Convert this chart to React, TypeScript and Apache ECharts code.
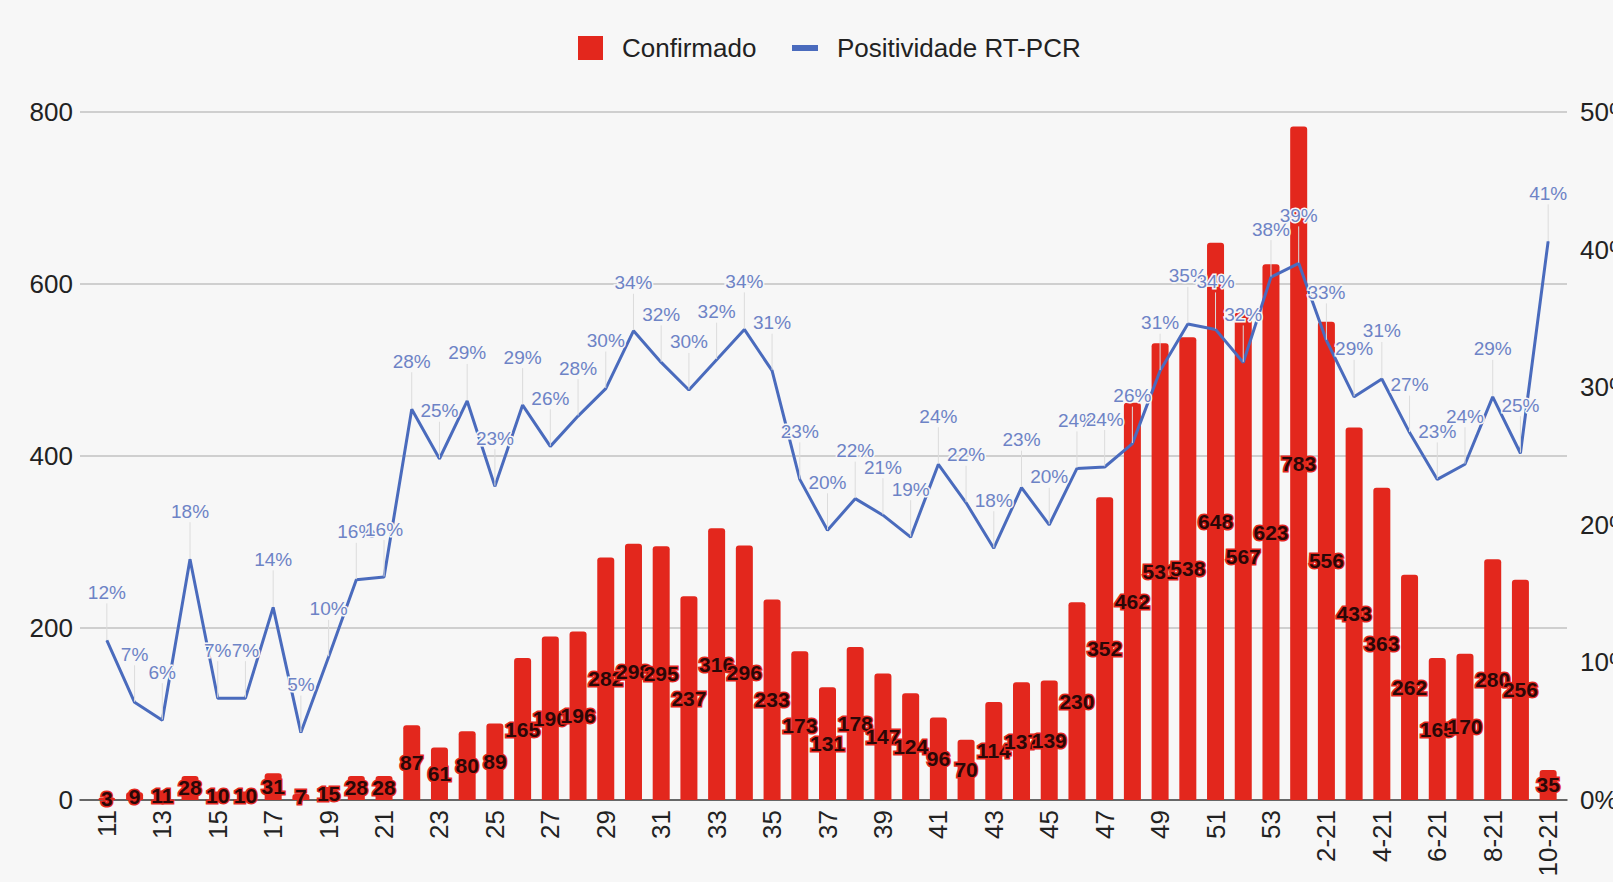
import React, { useEffect, useRef } from "react";
import * as echarts from "echarts";

const categories: string[] = [
  "11", "12", "13", "14", "15", "16", "17", "18", "19", "20",
  "21", "22", "23", "24", "25", "26", "27", "28", "29", "30",
  "31", "32", "33", "34", "35", "36", "37", "38", "39", "40",
  "41", "42", "43", "44", "45", "46", "47", "48", "49", "50",
  "51", "52", "53", "1-21", "2-21", "3-21", "4-21", "5-21", "6-21", "7-21",
  "8-21", "9-21", "10-21",
];

const confirmado: number[] = [
  3, 9, 11, 28, 10, 10, 31, 7, 15, 28,
  28, 87, 61, 80, 89, 165, 190, 196, 282, 298,
  295, 237, 316, 296, 233, 173, 131, 178, 147, 124,
  96, 70, 114, 137, 139, 230, 352, 462, 531, 538,
  648, 567, 623, 783, 556, 433, 363, 262, 165, 170,
  280, 256, 35,
];

const positividade: number[] = [
  11.6, 7.1, 5.8, 17.5, 7.4, 7.4, 14.0, 4.9, 10.4, 16.0,
  16.2, 28.4, 24.8, 29.0, 22.8, 28.7, 25.7, 27.9, 29.9, 34.1,
  31.8, 29.8, 32.0, 34.2, 31.2, 23.3, 19.6, 21.9, 20.7, 19.1,
  24.4, 21.6, 18.3, 22.7, 20.0, 24.1, 24.2, 25.9, 31.2, 34.6,
  34.2, 31.8, 38.0, 39.0, 33.4, 29.3, 30.6, 26.7, 23.3, 24.4,
  29.3, 25.2, 40.6,
];

const leftTicks = { min: 0, max: 800, interval: 200 };
const rightTicks = { min: 0, max: 50, interval: 10 };

const FONT = "'Liberation Sans', Arial, sans-serif";
const RED = "#e3271d";
const BLUE = "#4a6bbd";
const BG = "#f7f7f7";

export default function App() {
  const ref = useRef<HTMLDivElement>(null);

  useEffect(() => {
    if (!ref.current) return;
    const chart = echarts.init(ref.current, null, { renderer: "svg" });
    const top = 112;
    const bottom = 82;
    chart.setOption({
      animation: false,
      backgroundColor: BG,
      textStyle: { fontFamily: FONT },
      legend: [
        {
          data: ["Confirmado"],
          left: 573,
          top: 30,
          icon: "rect",
          itemWidth: 25,
          itemHeight: 24,
          textStyle: { fontSize: 26, color: "#222", fontFamily: FONT, padding: [0, 0, 0, 14] },
        },
        {
          data: ["Positividade RT-PCR"],
          left: 787,
          top: 30,
          icon: "rect",
          itemWidth: 26,
          itemHeight: 6,
          textStyle: { fontSize: 26, color: "#222", fontFamily: FONT, padding: [0, 0, 0, 14] },
        },
      ],
      grid: [
        { left: 93, right: 51, top, bottom, outerBoundsMode: "none" },
        { left: 80, right: 46, top, bottom, outerBoundsMode: "none" },
      ],
      xAxis: [
        {
          type: "category",
          gridIndex: 0,
          data: categories,
          boundaryGap: true,
          axisLine: { show: false },
          axisTick: { show: false },
          axisLabel: {
            interval: 1,
            rotate: 90,
            margin: 10,
            fontSize: 26,
            color: "#222",
            fontFamily: FONT,
          },
        },
        {
          type: "value",
          gridIndex: 1,
          min: 0,
          max: 1,
          axisLine: { show: true, onZero: false, lineStyle: { color: "#444", width: 1.5 } },
          axisTick: { show: false },
          axisLabel: { show: false },
          splitLine: { show: false },
        },
      ],
      yAxis: [
        { type: "value", gridIndex: 0, ...leftTicks, show: false },
        { type: "value", gridIndex: 0, ...rightTicks, show: false },
        {
          type: "value",
          gridIndex: 1,
          position: "left",
          ...leftTicks,
          axisLine: { show: false },
          axisTick: { show: false },
          axisLabel: { fontSize: 26, color: "#222", margin: 7, fontFamily: FONT },
          splitLine: { show: true, lineStyle: { color: "#cfcfcf", width: 2 } },
        },
        {
          type: "value",
          gridIndex: 1,
          position: "right",
          ...rightTicks,
          axisLine: { show: false },
          axisTick: { show: false },
          axisLabel: {
            fontSize: 26,
            color: "#222",
            margin: 13,
            fontFamily: FONT,
            formatter: "{value}%",
          },
          splitLine: { show: false },
        },
      ],
      series: [
        {
          name: "Confirmado",
          type: "bar",
          xAxisIndex: 0,
          yAxisIndex: 0,
          data: confirmado,
          barWidth: 17,
          color: RED,
          itemStyle: { color: RED, borderRadius: [3, 3, 0, 0] },
          label: {
            show: true,
            position: "inside",
            fontSize: 21,
            fontWeight: "bold",
            color: "#2a0707",
            textBorderColor: RED,
            textBorderWidth: 3,
            fontFamily: FONT,
          },
          z: 2,
        },
        {
          name: "Positividade RT-PCR",
          type: "line",
          xAxisIndex: 0,
          yAxisIndex: 1,
          data: positividade,
          color: BLUE,
          symbol: "circle",
          symbolSize: 1,
          showSymbol: true,
          lineStyle: { color: BLUE, width: 3 },
          itemStyle: { color: BLUE },
          label: {
            show: true,
            position: "top",
            distance: 2,
            fontSize: 19,
            color: "#6d83c6",
            textBorderColor: BG,
            textBorderWidth: 3,
            fontFamily: FONT,
            formatter: (p: any) => Math.round(p.value) + "%",
          },
          labelLayout: { dy: -36 },
          labelLine: { show: true, lineStyle: { color: "#dcdcdc", width: 1 } },
          z: 3,
        },
      ],
    });
    return () => chart.dispose();
  }, []);

  return (
    <div
      ref={ref}
      style={{ position: "absolute", left: 0, top: 0, width: 1613, height: 882, background: BG }}
    />
  );
}
